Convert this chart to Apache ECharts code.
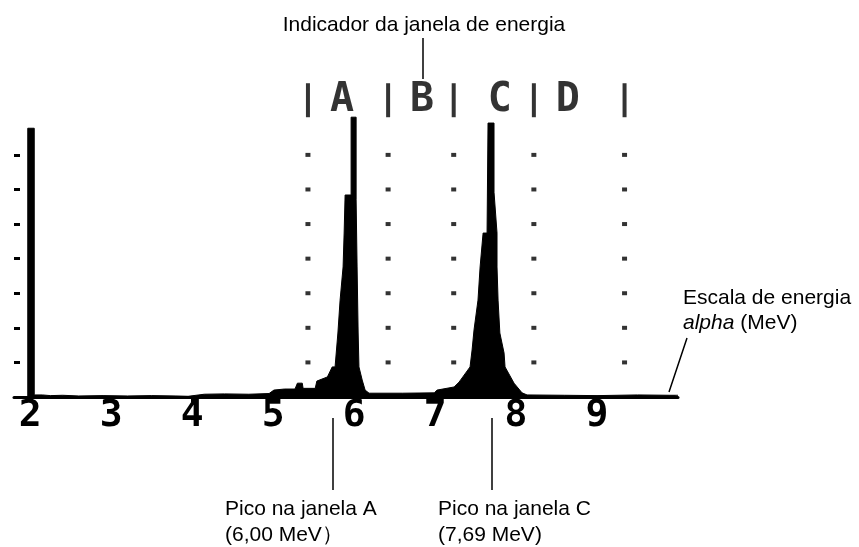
<!DOCTYPE html>
<html>
<head>
<meta charset="utf-8">
<script src="https://cdn.jsdelivr.net/npm/echarts@6/dist/echarts.min.js"></script>
<style>
  html, body { margin: 0; padding: 0; background: #fff; }
  #chart { width: 859px; height: 547px; }
</style>
</head>
<body>
<div id="chart"></div>
<script>
// Alpha energy spectrum (MeV) with energy window markers A-D.
const energyTicks = [2, 3, 4, 5, 6, 7, 8, 9];
const countTicks = [100, 200, 300, 400, 500, 600, 700];
const dotLevels = [100, 200, 300, 400, 500, 600, 700];

// Energy window boundaries and their names
const windowEdges = [5.43, 6.42, 7.23, 8.22, 9.34];
const windowNames = ['A', 'B', 'C', 'D'];
const windowNameEnergy = [5.85, 6.84, 7.80, 8.64];

// Spectrum outline: energy (MeV) and counts
const spectrumEnergy = [
  1.85, 1.97, 1.97, 2.05, 2.05, 2.15, 2.25, 2.40, 2.60, 2.90, 3.20, 3.50, 3.80, 3.95,
  4.15, 4.40, 4.70, 4.95, 5.01, 5.14, 5.27, 5.30, 5.36, 5.37, 5.52, 5.54, 5.67,
  5.73, 5.765, 5.80, 5.827, 5.864, 5.877, 5.889, 5.963, 5.963, 6.025, 6.025,
  6.037, 6.05, 6.06, 6.10, 6.136, 6.185, 6.60, 6.99, 7.025, 7.235, 7.296,
  7.432, 7.457, 7.481, 7.53, 7.556, 7.593, 7.642, 7.654, 7.728, 7.728, 7.765,
  7.765, 7.778, 7.80, 7.852, 7.864, 7.975, 8.074, 8.136, 8.60, 9.00, 9.50, 9.90, 10.0
];
const spectrumCounts = [
  0, 0, 777, 777, 6, 6, 4, 5, 3, 4, 3, 4, 3, 2,
  8, 9, 8, 10, 20, 23, 23, 40, 40, 25, 25, 46, 58,
  87, 87, 185, 280, 376, 474, 584, 584, 809, 809, 570,
  376, 185, 87, 49, 20, 11, 11, 12, 20, 29, 43,
  87, 136, 194, 280, 376, 474, 474, 792, 792, 592, 474,
  376, 280, 185, 127, 87, 40, 12, 6, 5, 4, 6, 5, 5
];

const markerLevel = 858; // height of the window indicator row above the plot

const chart = echarts.init(document.getElementById('chart'), null, { renderer: 'canvas' });

const textFont = 'Liberation Sans, Arial, sans-serif';
const monoFont = 'DejaVu Sans Mono, monospace';

chart.setOption({
  animation: false,
  backgroundColor: '#fff',
  grid: { left: 14, right: 181, top: 103, bottom: 150 },
  xAxis: {
    type: 'value',
    min: 1.8,
    max: 10,
    splitLine: { show: false },
    axisLine: { show: true, lineStyle: { color: '#000', width: 3 } },
    axisTick: { show: true, customValues: energyTicks, length: 5, lineStyle: { color: '#000', width: 3 } },
    axisLabel: {
      customValues: energyTicks,
      color: '#000',
      fontFamily: monoFont,
      fontWeight: 'bold',
      fontSize: 38,
      lineHeight: 30,
      margin: 4
    }
  },
  yAxis: {
    type: 'value',
    min: 0,
    max: 850,
    splitLine: { show: false },
    axisLine: { show: false },
    axisLabel: { show: false },
    axisTick: { show: true, inside: true, length: 6, customValues: countTicks, lineStyle: { color: '#000', width: 3 } }
  },
  series: [
    {
      type: 'line',
      data: spectrumEnergy.map((e, i) => [e, spectrumCounts[i]]),
      symbol: 'none',
      lineStyle: { color: '#000', width: 1 },
      areaStyle: { color: '#000', opacity: 1 },
      z: 3
    },
    {
      type: 'scatter',
      data: windowEdges.flatMap(e => dotLevels.map(c => [e, c])),
      symbol: 'rect',
      symbolSize: [5, 4],
      itemStyle: { color: '#000' },
      z: 2
    },
    {
      type: 'scatter',
      data: windowEdges.map(e => [e, markerLevel]),
      symbol: 'rect',
      symbolSize: [4, 34],
      itemStyle: { color: '#000' },
      clip: false
    },
    {
      type: 'scatter',
      data: windowNameEnergy.map((e, i) => ({ value: [e, markerLevel], name: windowNames[i] })),
      symbolSize: 1,
      itemStyle: { color: 'rgba(0,0,0,0)' },
      clip: false,
      label: {
        show: true,
        position: 'inside',
        formatter: '{b}',
        color: '#000',
        fontFamily: monoFont,
        fontWeight: 'bold',
        fontSize: 40
      }
    }
  ],
  graphic: [
    { type: 'text', x: 424, y: 25, style: { text: 'Indicador da janela de energia', font: '21px ' + textFont, fill: '#000', align: 'center', verticalAlign: 'middle' } },
    { type: 'line', shape: { x1: 423, y1: 38, x2: 423, y2: 79 }, style: { stroke: '#000', lineWidth: 1.5 } },

    { type: 'line', shape: { x1: 333, y1: 418, x2: 333, y2: 490 }, style: { stroke: '#000', lineWidth: 1.5 } },
    { type: 'text', x: 225, y: 509, style: { text: 'Pico na janela A', font: '21px ' + textFont, fill: '#000', align: 'left', verticalAlign: 'middle' } },
    { type: 'text', x: 225, y: 535, style: { text: '(6,00 MeV）', font: '21px ' + textFont, fill: '#000', align: 'left', verticalAlign: 'middle' } },

    { type: 'line', shape: { x1: 492, y1: 418, x2: 492, y2: 490 }, style: { stroke: '#000', lineWidth: 1.5 } },
    { type: 'text', x: 438, y: 509, style: { text: 'Pico na janela C', font: '21px ' + textFont, fill: '#000', align: 'left', verticalAlign: 'middle' } },
    { type: 'text', x: 438, y: 535, style: { text: '(7,69 MeV)', font: '21px ' + textFont, fill: '#000', align: 'left', verticalAlign: 'middle' } },

    { type: 'text', x: 683, y: 298, style: { text: 'Escala de energia', font: '21px ' + textFont, fill: '#000', align: 'left', verticalAlign: 'middle' } },
    { type: 'text', x: 683, y: 323, style: {
        text: '{i|alpha} (MeV)',
        font: '21px ' + textFont,
        fill: '#000',
        align: 'left',
        verticalAlign: 'middle',
        rich: { i: { fontStyle: 'italic', fontSize: 21, fontFamily: textFont, fill: '#000' } }
      } },
    { type: 'line', shape: { x1: 687, y1: 338, x2: 669, y2: 392 }, style: { stroke: '#000', lineWidth: 1.5 } }
  ]
});
</script>
</body>
</html>
